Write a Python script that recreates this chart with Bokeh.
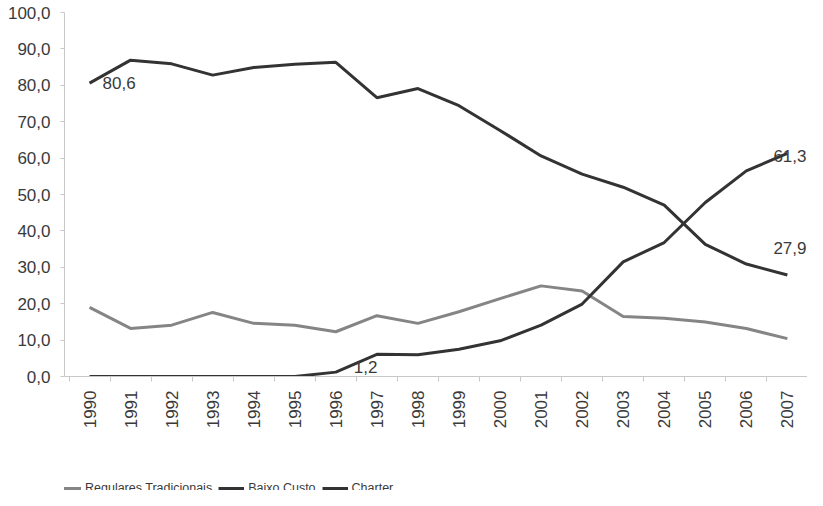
from bokeh.plotting import figure
from bokeh.models import FixedTicker, Legend, LegendItem, ColumnDataSource, Range1d
from bokeh.layouts import column
from bokeh.core.properties import value
from bokeh.embed import file_html
from bokeh.resources import INLINE
import math

years = ["1990", "1991", "1992", "1993", "1994", "1995", "1996", "1997", "1998",
         "1999", "2000", "2001", "2002", "2003", "2004", "2005", "2006", "2007"]
regulares = [19.0, 13.2, 14.1, 17.6, 14.6, 14.1, 12.3, 16.7, 14.6,
             17.8, 21.4, 24.9, 23.5, 16.5, 16.0, 15.0, 13.2, 10.4]
baixo_custo = [0.0, 0.0, 0.0, 0.0, 0.0, 0.0, 1.2, 6.1, 6.0,
               7.5, 9.8, 14.1, 19.9, 31.5, 36.8, 47.8, 56.5, 61.3]
charter = [80.6, 86.9, 85.9, 82.8, 84.9, 85.8, 86.3, 76.6, 79.1,
           74.4, 67.6, 60.6, 55.6, 52.0, 47.1, 36.3, 30.9, 27.9]
y_ticks = [0, 10, 20, 30, 40, 50, 60, 70, 80, 90, 100]
series_names = ["Regulares Tradicionais", "Baixo Custo", "Charter"]
series_colors = ["#858585", "#333333", "#333333"]

idx = list(range(len(years)))
FONT = "'Liberation Sans', Arial, sans-serif"
TXT = "#3a3a3a"

p = figure(width=807, height=472, output_backend="svg", toolbar_location=None,
           x_range=Range1d(-0.61, len(years) - 1 + 0.49), y_range=Range1d(0, 100),
           min_border_left=64, min_border_top=12, min_border_right=0, min_border_bottom=96)
p.outline_line_color = None
p.grid.visible = False
p.background_fill_color = "white"
p.border_fill_color = "white"

src = ColumnDataSource(dict(x=idx, reg=regulares, bc=baixo_custo, ch=charter))
p.line("x", "reg", source=src, line_color=series_colors[0], line_width=3)
p.line("x", "bc", source=src, line_color=series_colors[1], line_width=3)
p.line("x", "ch", source=src, line_color=series_colors[2], line_width=3)

# x axis
xa = p.xaxis[0]
xa.ticker = FixedTicker(ticks=idx, minor_ticks=[i - 0.5 for i in range(len(years) + 1)])
xa.major_label_overrides = {i: y for i, y in enumerate(years)}
xa.major_label_orientation = math.pi / 2
xa.major_tick_out = 0
xa.major_tick_in = 0
xa.minor_tick_out = 5
xa.minor_tick_in = 0
xa.minor_tick_line_color = "#c8c8c8"
xa.axis_line_color = "#c8c8c8"
xa.major_label_text_font = FONT
xa.major_label_text_font_size = "17px"
xa.major_label_text_color = TXT
xa.major_label_standoff = 9

# y axis
ya = p.yaxis[0]
ya.ticker = FixedTicker(ticks=y_ticks)
ya.major_label_overrides = {t: f"{t:.1f}".replace(".", ",") for t in y_ticks}
ya.axis_line_color = "#c8c8c8"
ya.major_tick_line_color = "#c8c8c8"
ya.major_tick_out = 4
ya.major_tick_in = 0
ya.minor_tick_out = 0
ya.minor_tick_in = 0
ya.major_label_text_font = FONT
ya.major_label_text_font_size = "17px"
ya.major_label_text_color = TXT
ya.major_label_standoff = 10

# data labels
def lab(v):
    return f"{v:.1f}".replace(".", ",")

lbl_kw = dict(text_font=value("Liberation Sans"), text_font_size="17px", text_color=TXT,
              text_align="left")
p.text(x=[idx[0]], y=[charter[0]], text=[lab(charter[0])], x_offset=13, y_offset=0,
       text_baseline="middle", **lbl_kw)
p.text(x=[idx[-1]], y=[baixo_custo[-1]], text=[lab(baixo_custo[-1])], x_offset=-14, y_offset=3,
       text_baseline="middle", **lbl_kw)
p.text(x=[idx[-1]], y=[charter[-1]], text=[lab(charter[-1])], x_offset=-14, y_offset=-27,
       text_baseline="middle", **lbl_kw)
p.text(x=[idx[6]], y=[baixo_custo[6]], text=[lab(baixo_custo[6])], x_offset=18, y_offset=1,
       text_baseline="bottom", **lbl_kw)

# legend strip below the chart
lf = figure(width=807, height=18, output_backend="svg", toolbar_location=None,
            x_range=Range1d(0, 1), y_range=Range1d(0, 1),
            x_axis_location=None, y_axis_location=None,
            min_border=0, min_border_left=0, min_border_right=0,
            min_border_top=0, min_border_bottom=0)
lf.grid.visible = False
lf.outline_line_color = None
items = []
for name, col in zip(series_names, series_colors):
    # off-range proxy line so only the legend swatch is visible
    r = lf.line(x=[-5, -4], y=[-5, -5], line_color=col, line_width=3)
    items.append(LegendItem(label=name, renderers=[r]))
legend = Legend(items=items, orientation="horizontal", location=(-9, -5),
                label_text_font="'Liberation Sans Narrow', 'Liberation Sans', sans-serif",
                label_text_font_size="12.5px", label_text_color=TXT,
                glyph_width=26, glyph_height=14, label_standoff=4, spacing=6,
                padding=0, margin=0, border_line_color=None, background_fill_alpha=0,
                label_height=14)
lf.add_layout(legend, "center")

layout = column(p, lf, spacing=0)
open("out.html", "w").write(file_html(layout, INLINE))
